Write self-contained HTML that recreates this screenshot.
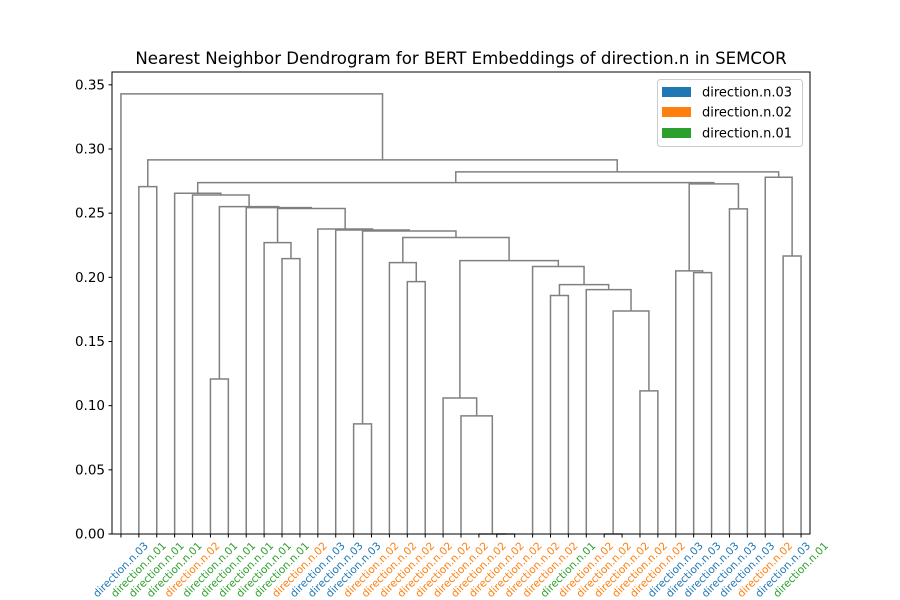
<!DOCTYPE html>
<html><head><meta charset="utf-8"><style>
body{margin:0;background:#fff;}
svg{display:block;font-family:"DejaVu Sans","Liberation Sans",sans-serif;}
</style></head><body>
<svg id="chart" width="900" height="600" viewBox="0 0 900 600">
<rect x="0" y="0" width="900" height="600" fill="#fff"/>
<text x="461" y="64" text-anchor="middle" font-size="16.6" fill="#000">Nearest Neighbor Dendrogram for BERT Embeddings of direction.n in SEMCOR</text>
<g id="links"></g>
<g id="yaxis"></g>
<g id="xaxis"></g>
<rect x="112" y="72" width="698" height="462" fill="none" stroke="#000" stroke-width="1"/>
<g>
<rect x="657.5" y="79.5" width="145" height="67" rx="3" fill="#fff" fill-opacity="0.8" stroke="#ccc"/>
<rect x="662" y="87" width="29" height="10" fill="#1f77b4"/>
<text x="702" y="96.5" font-size="13" fill="#000">direction.n.03</text>
<rect x="662" y="107" width="29" height="10" fill="#ff7f0e"/>
<text x="702" y="116.5" font-size="13" fill="#000">direction.n.02</text>
<rect x="662" y="128" width="29" height="10" fill="#2ca02c"/>
<text x="702" y="137.5" font-size="13" fill="#000">direction.n.01</text>
</g>
</svg>
<script>
// leaf senses (in original leaf index order)
const leafSense = ["03","01","01","01","02","01","01","01","01","01","02","03","03","03","02","02","02","02","02","02","02","02","02","02","02","01","02","02","02","02","02","03","03","03","03","03","02","03","01"];
// linkage: indices < 39 are leaves, >= 39 refer to merge (id - 39)
const mergeLeft  = [21,20,19,18,27,29,43,24,26,46,23,42,16,15,52,13,54,12,11,9,8,59,7,5,62,4,3,32,31,34,67,37,36,65,72,1,74,0];
const mergeRight = [22,39,40,41,28,30,44,25,45,47,48,49,17,51,50,14,53,55,56,10,58,57,60,6,61,63,64,33,66,35,68,38,70,69,71,2,73,75];
const mergeHeight= [0,0,0.092,0.106,0,0.1115,0.1738,0.1858,0.1904,0.1943,0.2084,0.213,0.1967,0.2115,0.231,0.0858,0.2361,0.2369,0.2377,0.2146,0.227,0.2536,0.2543,0.1208,0.2551,0.2642,0.2655,0.2037,0.205,0.2533,0.2728,0.2166,0.278,0.2738,0.2822,0.2707,0.2915,0.343];
const yTicks = [0,0.05,0.10,0.15,0.20,0.25,0.30,0.35];
const yTickLabels = ["0.00","0.05","0.10","0.15","0.20","0.25","0.30","0.35"];
const senseColor = {"03":"#1f77b4","02":"#ff7f0e","01":"#2ca02c"};
</script>
<script>
(function(){
const NS="http://www.w3.org/2000/svg";
const N=leafSense.length;
const X0=112,X1=810,Y0=534,Y1=72,YMAX=0.36;
const L=mergeLeft, R=mergeRight, H=mergeHeight;
const nM=L.length, root=N+nM-1;
const order=[];
function trav(id){ if(id<N){order.push(id);return;} trav(L[id-N]); trav(R[id-N]); }
trav(root);
const pos={};
const sx=i=>X0+(X1-X0)*(5+10*i)/(10*N);
const sy=v=>Y0-(Y0-Y1)*v/YMAX;
order.forEach((leaf,i)=>pos[leaf]=sx(i));
function xOf(id){ if(id<N) return pos[id]; const m=id-N; if(pos[id]===undefined) pos[id]=(xOf(L[m])+xOf(R[m]))/2; return pos[id]; }
function hOf(id){ return id<N?0:H[id-N]; }
const gl=document.getElementById('links');
for(let m=0;m<nM;m++){
  const a=L[m], b=R[m], h=H[m];
  const xa=xOf(a), xb=xOf(b);
  const p=document.createElementNS(NS,'path');
  p.setAttribute('d',`M${xa},${sy(hOf(a))}V${sy(h)}H${xb}V${sy(hOf(b))}`);
  p.setAttribute('fill','none');p.setAttribute('stroke','#808080');p.setAttribute('stroke-width','1.5');
  
  
  gl.appendChild(p);
}
const gy=document.getElementById('yaxis');
yTicks.forEach((v,i)=>{
  const y=sy(v);
  const t=document.createElementNS(NS,'line');
  t.setAttribute('x1',X0-3.5);t.setAttribute('x2',X0);t.setAttribute('y1',y);t.setAttribute('y2',y);t.setAttribute('stroke','#000');
  
  
  gy.appendChild(t);
  const tx=document.createElementNS(NS,'text');
  tx.setAttribute('x',X0-7);tx.setAttribute('y',y+4.5);tx.setAttribute('text-anchor','end');tx.setAttribute('font-size','13.5');
  tx.textContent=yTickLabels[i];
  
  
  gy.appendChild(tx);
});
const gx=document.getElementById('xaxis');
order.forEach((leaf,i)=>{
  const x=sx(i);
  const t=document.createElementNS(NS,'line');
  t.setAttribute('x1',x);t.setAttribute('x2',x);t.setAttribute('y1',Y0);t.setAttribute('y2',Y0+3.5);t.setAttribute('stroke','#000');
  
  
  gx.appendChild(t);
  const tx=document.createElementNS(NS,'text');
  const cy=570;
  tx.setAttribute('x',x);tx.setAttribute('y',cy);tx.setAttribute('text-anchor','middle');tx.setAttribute('dominant-baseline','central');
  tx.setAttribute('font-size','10.5');tx.setAttribute('fill',senseColor[leafSense[leaf]]);
  tx.setAttribute('transform',`rotate(-45 ${x} ${cy})`);
  tx.textContent='direction.n.'+leafSense[leaf];
  
  
  gx.appendChild(tx);
});
})();
</script>
</body></html>
